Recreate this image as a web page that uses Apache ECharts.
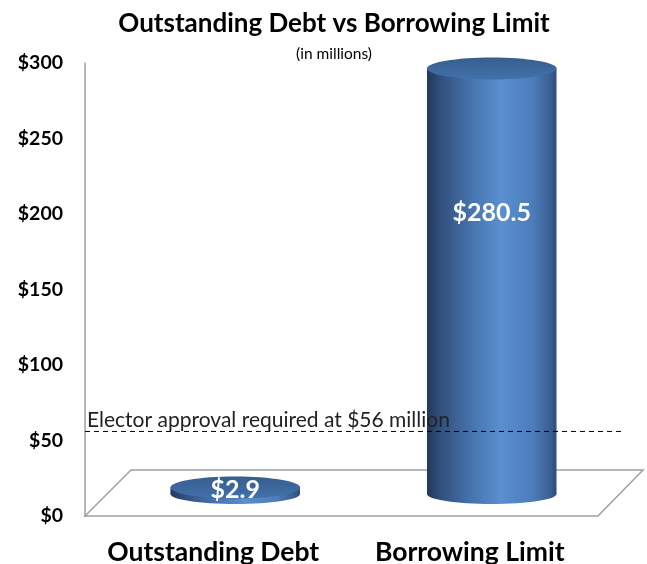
<!DOCTYPE html>
<html>
<head>
<meta charset="utf-8">
<script src="https://cdn.jsdelivr.net/npm/echarts@6/dist/echarts.min.js"></script>
<style>html,body{margin:0;padding:0;background:#fff}#c{width:647px;height:564px}</style>
</head>
<body>
<div id="c"></div>
<script>
const categories = ['Outstanding Debt', 'Borrowing Limit'];
const values = [2.9, 280.5];
const valueLabels = ['$2.9', '$280.5'];
const yTickValues = [0, 50, 100, 150, 200, 250, 300];
const thresholdValue = 56;
const thresholdLabel = 'Elector approval required at $56 million';

const FONT = 'Lato';
const chart = echarts.init(document.getElementById('c'));

const DX = 22, DY = -22, RY = 10;

const bodyGrad = () => new echarts.graphic.LinearGradient(0, 0, 1, 0, [
  {offset: 0, color: '#22385a'},
  {offset: 0.1, color: '#314f7c'},
  {offset: 0.35, color: '#4774ae'},
  {offset: 0.57, color: '#5a8fd0'},
  {offset: 0.82, color: '#4c7cba'},
  {offset: 0.95, color: '#3b5f91'},
  {offset: 1, color: '#2f4d79'}
]);
const topGrad = () => new echarts.graphic.LinearGradient(0, 0, 0, 1, [
  {offset: 0, color: '#375e90'},
  {offset: 1, color: '#4271aa'}
]);

chart.setOption({
  animation: false,
  title: {
    text: 'Outstanding Debt vs Borrowing Limit',
    subtext: '(in millions)',
    left: 329, top: 6, textAlign: 'center',
    itemGap: 9,
    textStyle: {fontFamily: FONT, fontWeight: 'bold', fontSize: 26, color: '#000'},
    subtextStyle: {fontFamily: FONT, fontWeight: 'normal', fontSize: 15.5, color: '#000'}
  },
  grid: {left: 85, right: 49, top: 63, bottom: 48, containLabel: false, outerBoundsMode: 'none'},
  xAxis: {
    type: 'category', data: categories,
    axisLine: {show: false}, axisTick: {show: false},
    axisLabel: {interval: 0, hideOverlap: false, fontFamily: FONT, fontWeight: 'bold', fontSize: 26.5, color: '#000', margin: 23}
  },
  yAxis: {
    type: 'value', min: yTickValues[0], max: yTickValues[yTickValues.length - 1], interval: 50,
    splitLine: {show: false},
    axisLine: {show: true, lineStyle: {color: '#a0a0a0', width: 1.5}},
    axisTick: {show: false},
    axisLabel: {fontFamily: FONT, fontWeight: 'bold', fontSize: 19.5, color: '#000', margin: 22,
      formatter: v => '$' + v}
  },
  series: [
    {
      type: 'custom', z: 1, silent: true,
      data: [[0, 0]],
      renderItem: (params, api) => {
        const cs = params.coordSys;
        const yb = cs.y + cs.height, x0 = cs.x, x1 = cs.x + cs.width, d = 46;
        return {
          type: 'polygon',
          shape: {points: [[x0, yb], [x0 + d, yb - d], [x1 + d - 1, yb - d], [x1, yb]]},
          style: {fill: 'none', stroke: '#a0a0a0', lineWidth: 1.5}
        };
      }
    },
    {
      type: 'custom', z: 2,
      data: values.map((v, i) => [i, v]),
      encode: {x: 0, y: 1},
      renderItem: (params, api) => {
        const i = api.value(0), v = api.value(1);
        const base = api.coord([i, 0]);
        const top = api.coord([i, v]);
        const w = api.size([1, 0])[0] * 0.505;
        const cx = base[0] + DX;
        const by = base[1] + DY, ty = top[1] + DY - 2;
        const rx = w / 2;
        const ly = ty + 0.34 * (by - ty);
        return {
          type: 'group',
          children: [
            {type: 'ellipse', shape: {cx: cx, cy: by, rx: rx, ry: RY}, style: {fill: bodyGrad()}},
            {type: 'rect', shape: {x: cx - rx, y: ty, width: w, height: by - ty}, style: {fill: bodyGrad()}},
            {type: 'ellipse', shape: {cx: cx, cy: ty, rx: rx, ry: RY + 1}, style: {fill: topGrad()}},
            {type: 'text', x: cx, y: ly, style: {
              text: valueLabels[params.dataIndex], fill: '#fff', align: 'center', verticalAlign: 'middle',
              fontFamily: FONT, fontWeight: 'bold', fontSize: 25}}
          ]
        };
      }
    },
    {
      type: 'custom', z: 3, silent: true,
      data: [[0, thresholdValue]],
      renderItem: (params, api) => {
        const cs = params.coordSys;
        const y = api.coord([0, api.value(1)])[1];
        return {
          type: 'group',
          children: [
            {type: 'line', shape: {x1: cs.x, y1: y, x2: cs.x + cs.width + 25, y2: y},
              style: {stroke: '#000', lineWidth: 1, lineDash: [5, 4]}},
            {type: 'text', x: cs.x + 2, y: y - 1, style: {
              text: thresholdLabel, fill: '#222', align: 'left', verticalAlign: 'bottom',
              fontFamily: FONT, fontSize: 21}}
          ]
        };
      }
    }
  ]
});
</script>
</body>
</html>
